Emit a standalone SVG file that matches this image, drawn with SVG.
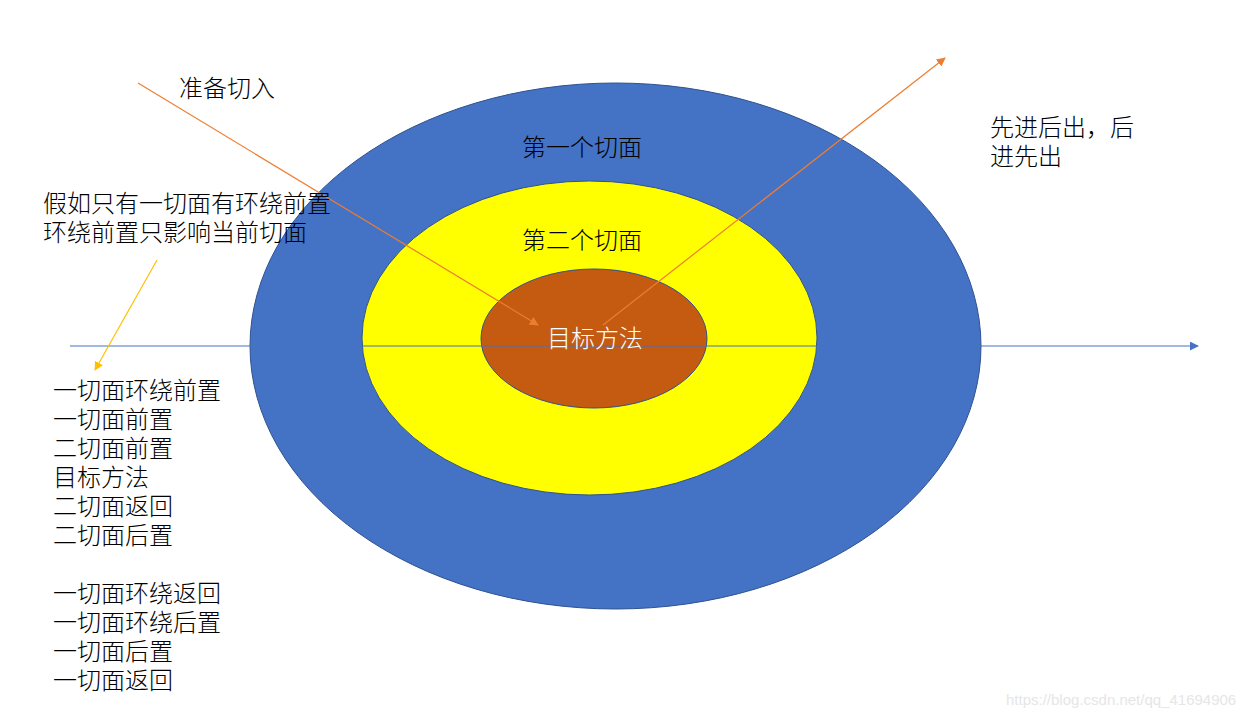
<svg xmlns="http://www.w3.org/2000/svg" width="1259" height="717" viewBox="0 0 1259 717">
<defs>
<marker id="aO" viewBox="0 0 10 10" refX="9" refY="5" markerWidth="9" markerHeight="9" markerUnits="userSpaceOnUse" orient="auto"><path d="M0,0 L10,5 L0,10 z" fill="#ED7D31"/></marker>
<marker id="aB" viewBox="0 0 10 10" refX="9" refY="5" markerWidth="9" markerHeight="9" markerUnits="userSpaceOnUse" orient="auto"><path d="M0,0 L10,5 L0,10 z" fill="#4472C4"/></marker>
<marker id="aY" viewBox="0 0 10 10" refX="9" refY="5" markerWidth="9" markerHeight="9" markerUnits="userSpaceOnUse" orient="auto"><path d="M0,0 L10,5 L0,10 z" fill="#FFC000"/></marker>
</defs>
<style>
text{font-family:"Noto Sans CJK SC","Liberation Sans",sans-serif;font-size:24px;font-weight:300;fill:#000;dominant-baseline:central}
.ring{stroke:#2F528F;stroke-width:1}
</style>
<rect width="1259" height="717" fill="#fff"/>
<g id="outer"><ellipse class="ring" cx="615.5" cy="346" rx="365.5" ry="263" fill="#4472C4"/><text x="522" y="145">第一个切面</text></g>
<g id="middle"><ellipse class="ring" cx="589.5" cy="338" rx="227.5" ry="157" fill="#FFFF00"/><text x="522" y="238">第二个切面</text></g>
<g id="inner"><ellipse class="ring" cx="594" cy="338.5" rx="113" ry="69.5" fill="#C55A11"/></g>
<g id="connectors">
<line x1="70" y1="346" x2="1198" y2="346" stroke="#4472C4" stroke-width="1.2" marker-end="url(#aB)"/>
<line x1="138" y1="83" x2="538" y2="325" stroke="#ED7D31" stroke-width="1.2" marker-end="url(#aO)"/>
<line x1="603" y1="325" x2="945" y2="58" stroke="#ED7D31" stroke-width="1.2" marker-end="url(#aO)"/>
<line x1="157" y1="260" x2="95" y2="370" stroke="#FFC000" stroke-width="1.2" marker-end="url(#aY)"/>
</g>
<g id="target-label"><text x="547" y="336" style="fill:#fff">目标方法</text></g>
<g id="label-enter"><text x="179" y="86">准备切入</text></g>
<g id="label-note"><text x="43" y="201">假如只有一切面有环绕前置</text><text x="43" y="230">环绕前置只影响当前切面</text></g>
<g id="label-order"><text x="990" y="125">先进后出，后</text><text x="990" y="154">进先出</text></g>
<g id="label-list">
<text x="53" y="388">一切面环绕前置</text>
<text x="53" y="417">一切面前置</text>
<text x="53" y="446">二切面前置</text>
<text x="53" y="475">目标方法</text>
<text x="53" y="504">二切面返回</text>
<text x="53" y="533">二切面后置</text>
<text x="53" y="591">一切面环绕返回</text>
<text x="53" y="620">一切面环绕后置</text>
<text x="53" y="649">一切面后置</text>
<text x="53" y="678">一切面返回</text>
</g>
<text x="1006" y="699" style="font-family:'Liberation Sans',sans-serif;font-size:15px;font-weight:400;fill:#e6e6e6">https://blog.csdn.net/qq_41694906</text>
</svg>
